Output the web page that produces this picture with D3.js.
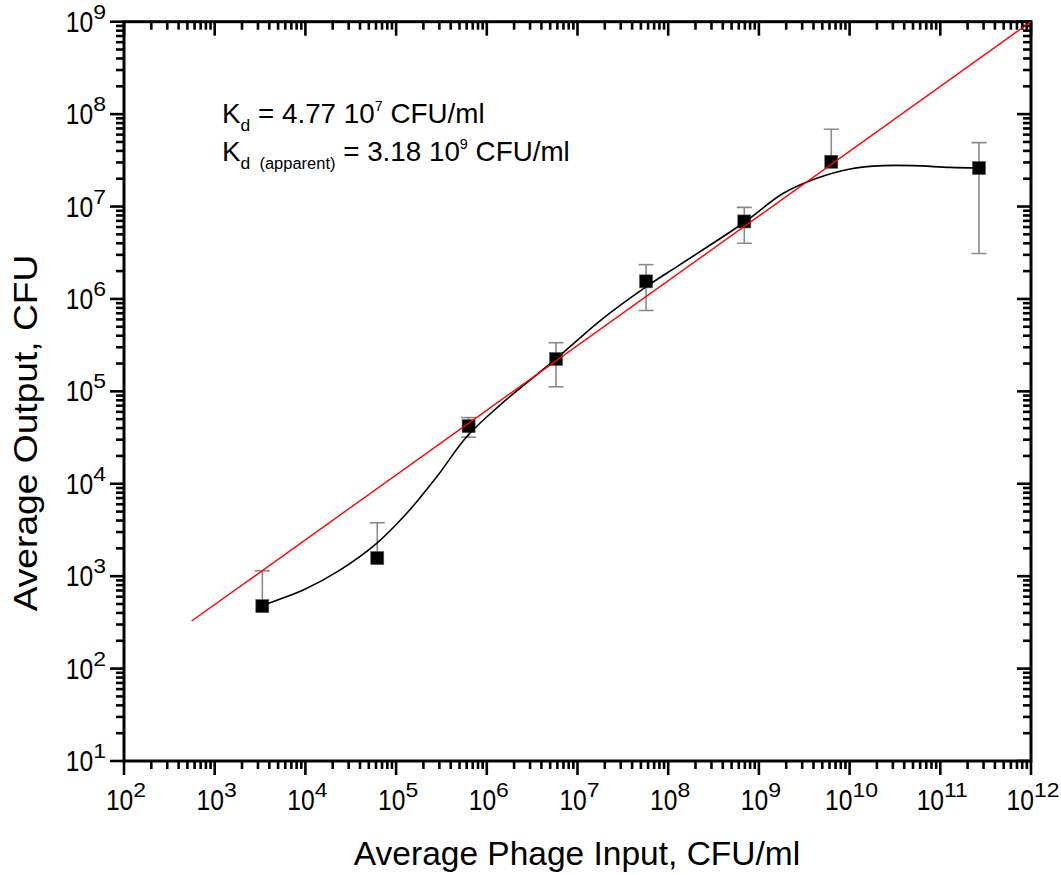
<!DOCTYPE html>
<html>
<head>
<meta charset="utf-8">
<script src="https://cdn.jsdelivr.net/npm/d3@7"></script>
<style>
  html, body { margin: 0; padding: 0; background: #fff; }
  svg { display: block; font-family: "Liberation Sans", Arial, sans-serif; }
</style>
</head>
<body>
<svg id="chart" width="1061" height="875"></svg>
<script>
// Measured phage output vs. input (mean ± SD)
const inputCFU  = [3.35e3, 6.2e4, 6.3e5, 5.8e6, 5.7e7, 6.9e8, 6.28e9, 2.67e11];
const outputCFU = [474, 1570, 4.2e4, 2.24e5, 1.55e6, 6.9e6, 3.05e7, 2.61e7];
const outputSD  = [670, 2215, 1.0e4, 1.12e5, 8.0e5, 2.9e6, 3.8e7, 2.3e7];

// Smoothed trend through the measurements
const smoothX = [3.32e3, 4.07e3, 9.48e3, 2.40e4, 6.11e4, 1.31e5, 2.81e5, 6.0e5, 1.40e6,
                 5.79e6, 1.77e7, 5.69e7, 1.35e8, 6.73e8, 1.86e9, 4.34e9, 1.01e10,
                 2.36e10, 5.04e10, 1.28e11, 2.67e11];
const smoothY = [474, 515, 708, 1164, 2265, 4786, 1.19e4, 3.23e4, 7.11e4,
                 2.24e5, 5.80e5, 1.35e6, 2.35e6, 6.63e6, 1.39e7, 2.02e7, 2.55e7,
                 2.77e7, 2.77e7, 2.65e7, 2.61e7];

// Power-law fit (straight line on log-log axes)
const fitX = [557, 1e12];
const fitY = [327, 1e9];

// Axis decades
const xTickExps = [2, 3, 4, 5, 6, 7, 8, 9, 10, 11, 12];
const yTickExps = [1, 2, 3, 4, 5, 6, 7, 8, 9];

// Annotation values (mantissa, exponent)
const kdValue = ["4.77", "7"];
const kdAppValue = ["3.18", "9"];

const svg = d3.select("#chart");
svg.append("rect").attr("width", 1061).attr("height", 875).attr("fill", "#fff");

const L = 124, R = 1031, T = 21.7, B = 761;
const x = d3.scaleLog().domain([1e2, 1e12]).range([L, R]);
const y = d3.scaleLog().domain([1e1, 1e9]).range([B, T]);

svg.append("defs").append("clipPath").attr("id", "plotClip")
  .append("rect").attr("x", L).attr("y", T).attr("width", R - L).attr("height", B - T);

// ---- ticks (major + minor at 2..9 × 10^n) ----
function minorValues(exps) {
  const out = [];
  for (let i = 0; i < exps.length - 1; i++)
    for (let m = 2; m <= 9; m++) out.push(m * Math.pow(10, exps[i]));
  return out;
}
const xMajor = xTickExps.map(e => Math.pow(10, e));
const yMajor = yTickExps.map(e => Math.pow(10, e));
const xMinor = minorValues(xTickExps);
const yMinor = minorValues(yTickExps);

const tickG = svg.append("g").attr("stroke", "#000").attr("stroke-width", 2.6);
const MAJ = 14, MIN = 8;
// bottom (outward) and top (inward)
xMajor.forEach(v => {
  tickG.append("line").attr("x1", x(v)).attr("x2", x(v)).attr("y1", B).attr("y2", B + MAJ);
  tickG.append("line").attr("x1", x(v)).attr("x2", x(v)).attr("y1", T).attr("y2", T + MAJ);
});
xMinor.forEach(v => {
  tickG.append("line").attr("x1", x(v)).attr("x2", x(v)).attr("y1", B).attr("y2", B + MIN);
  tickG.append("line").attr("x1", x(v)).attr("x2", x(v)).attr("y1", T).attr("y2", T + MIN);
});
// left (outward) and right (inward)
yMajor.forEach(v => {
  tickG.append("line").attr("y1", y(v)).attr("y2", y(v)).attr("x1", L).attr("x2", L - MAJ);
  tickG.append("line").attr("y1", y(v)).attr("y2", y(v)).attr("x1", R).attr("x2", R - MAJ);
});
yMinor.forEach(v => {
  tickG.append("line").attr("y1", y(v)).attr("y2", y(v)).attr("x1", L).attr("x2", L - MIN);
  tickG.append("line").attr("y1", y(v)).attr("y2", y(v)).attr("x1", R).attr("x2", R - MIN);
});

// frame
svg.append("rect").attr("x", L).attr("y", T).attr("width", R - L).attr("height", B - T)
  .attr("fill", "none").attr("stroke", "#000").attr("stroke-width", 3);

// ---- tick labels: "10" with a superscript exponent ----
const BASE_FS = 30, BASE_SX = 0.82, EXP_FS = 20, EXP_SX = 1.15, EXP_DY = -13;
function powerLabel(px, py, exp, anchor) {
  const g = svg.append("g");
  const base = g.append("text").attr("font-size", BASE_FS).attr("fill", "#000").text("10");
  const sup = g.append("text").attr("font-size", EXP_FS).attr("fill", "#000").text(exp);
  const wb = base.node().getComputedTextLength() * BASE_SX;
  const we = sup.node().getComputedTextLength() * EXP_SX;
  const total = wb + we;
  const x0 = anchor === "middle" ? px - total / 2 : px - total;
  base.attr("transform", `translate(${x0},${py}) scale(${BASE_SX},1)`);
  sup.attr("transform", `translate(${x0 + wb},${py + EXP_DY}) scale(${EXP_SX},1)`);
}
xTickExps.forEach(e => powerLabel(x(Math.pow(10, e)) + 2, 810, e, "middle"));
yTickExps.forEach(e => powerLabel(106, y(Math.pow(10, e)) + 10, e, "end"));

// ---- axis titles ----
svg.append("text").attr("x", 577).attr("y", 865).attr("text-anchor", "middle")
  .attr("font-size", 33.5).attr("fill", "#000").text("Average Phage Input, CFU/ml");
svg.append("g").attr("transform", "translate(37,433) rotate(-90) scale(1.11,1)")
  .append("text").attr("x", 0).attr("y", 0).attr("text-anchor", "middle")
  .attr("font-size", 33.5).attr("fill", "#000").text("Average Output, CFU");

// ---- data layers ----
const plot = svg.append("g").attr("clip-path", "url(#plotClip)");

// error bars (lower whisker only when it stays positive)
const pts = inputCFU.map((v, i) => ({ x: v, y: outputCFU[i], sd: outputSD[i] }));
const errG = plot.append("g").attr("stroke", "#8a8a8a").attr("stroke-width", 1.6);
const CAP = 7.5;
pts.forEach(p => {
  const cx = x(p.x);
  const yTop = y(p.y + p.sd);
  errG.append("line").attr("x1", cx).attr("x2", cx).attr("y1", y(p.y)).attr("y2", yTop);
  errG.append("line").attr("x1", cx - CAP).attr("x2", cx + CAP).attr("y1", yTop).attr("y2", yTop);
  if (p.y - p.sd > 0) {
    const yBot = y(p.y - p.sd);
    errG.append("line").attr("x1", cx).attr("x2", cx).attr("y1", y(p.y)).attr("y2", yBot);
    errG.append("line").attr("x1", cx - CAP).attr("x2", cx + CAP).attr("y1", yBot).attr("y2", yBot);
  }
});

// markers
const S = 13;
plot.append("g").selectAll("rect").data(pts).join("rect")
  .attr("x", d => x(d.x) - S / 2).attr("y", d => y(d.y) - S / 2)
  .attr("width", S).attr("height", S)
  .attr("fill", "#000").attr("stroke", "#555").attr("stroke-width", 0.6);

// smoothed curve
const smooth = smoothX.map((v, i) => [v, smoothY[i]]);
plot.append("path").datum(smooth)
  .attr("d", d3.line().x(d => x(d[0])).y(d => y(d[1])).curve(d3.curveCatmullRom.alpha(0.5)))
  .attr("fill", "none").attr("stroke", "#000").attr("stroke-width", 1.6);

// fit line
const fit = fitX.map((v, i) => [v, fitY[i]]);
plot.append("path").datum(fit)
  .attr("d", d3.line().x(d => x(d[0])).y(d => y(d[1])))
  .attr("fill", "none").attr("stroke", "#ff0000").attr("stroke-width", 1.4);

// ---- annotation ----
function kdLine(py, subMain, subExtra, val) {
  const g = svg.append("g").attr("transform", `translate(222,${py}) scale(1.03,1)`);
  const t = g.append("text").attr("x", 0).attr("y", 0).attr("font-size", 27).attr("fill", "#000");
  t.append("tspan").text("K");
  t.append("tspan").attr("font-size", 17).attr("dy", 8).text(subMain);
  if (subExtra) {
    t.append("tspan").attr("font-size", 16).text("\u00a0 " + subExtra);
  }
  t.append("tspan").attr("dy", -8).text(" = " + val[0] + " 10");
  t.append("tspan").attr("font-size", 14).attr("dy", -12).text(val[1]);
  t.append("tspan").attr("dy", 12).text(" CFU/ml");
}
kdLine(123, "d", null, kdValue);
kdLine(161, "d", "(apparent)", kdAppValue);
</script>
</body>
</html>
